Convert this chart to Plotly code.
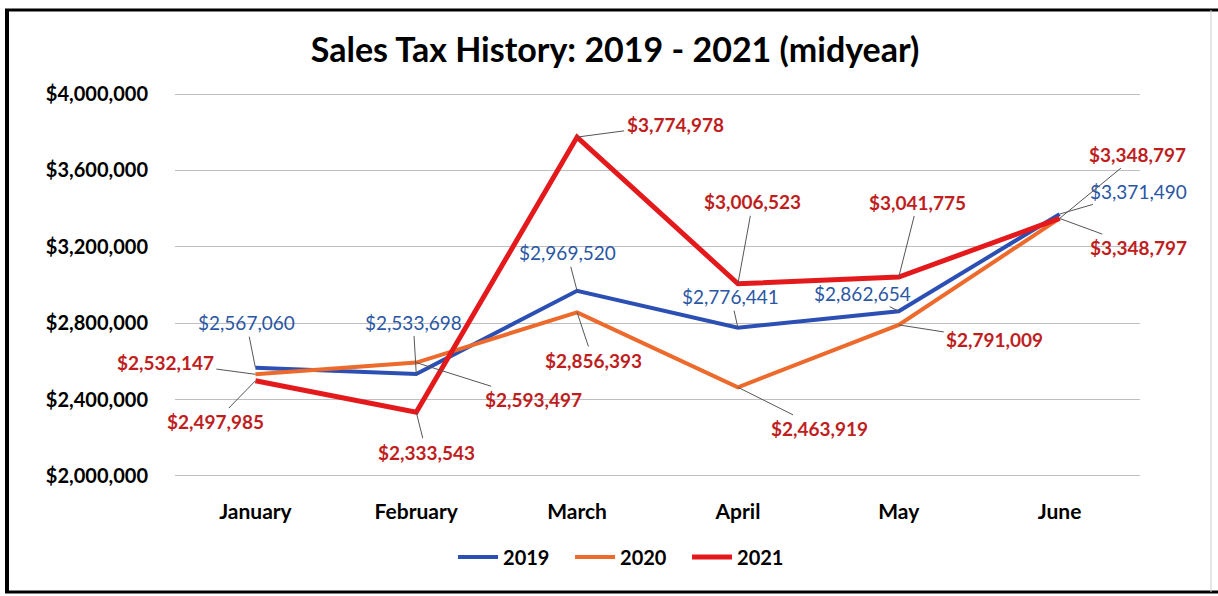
import plotly.graph_objects as go

months = ["January", "February", "March", "April", "May", "June"]
sales_2019 = [2567060, 2533698, 2969520, 2776441, 2862654, 3371490]
sales_2020 = [2532147, 2593497, 2856393, 2463919, 2791009, 3348797]
sales_2021 = [2497985, 2333543, 3774978, 3006523, 3041775, 3348797]
labels_2021 = [2497985, 2333543, 3774978, 3006523, 3041775, 3348797]
y_ticks = [2000000, 2400000, 2800000, 3200000, 3600000, 4000000]

W, H = 1218, 596
L, R, T, B = 175, 78, 93, 119

FONT = "Lato"
C19_LINE = "#2b4fb3"
C20_LINE = "#ec6a2c"
C21_LINE = "#e3191c"
C19_TXT = "#2a56a3"
C_RED_TXT = "#bf1e1e"

# label offsets (pixels, label centre relative to point)
off_2019 = [(-9, -45), (-3, -52), (-10, -38), (-7, -31), (-36, -18), (79, -23)]
off_2020 = [(-90, -12), (117, 37), (16, 48), (82, 41), (96, 15), (79, 29)]
off_2021 = [(-40, 41), (10, 40), (98, -13), (15, -82), (19, -75), (78, -64)]

fig = go.Figure()
for name, vals, col, w in [("2019", sales_2019, C19_LINE, 4),
                           ("2020", sales_2020, C20_LINE, 4),
                           ("2021", sales_2021, C21_LINE, 5)]:
    fig.add_trace(go.Scatter(x=months, y=vals, mode="lines", name=f"<b>{name}</b>",
                             line=dict(color=col, width=w)))

annotations = []
def add_labels(vals, lab_vals, offs, color, bold):
    for m, v, lv, (dx, dy) in zip(months, vals, lab_vals, offs):
        txt = f"${lv:,.0f}"
        if bold:
            txt = f"<b>{txt}</b>"
        annotations.append(dict(
            x=m, y=v, xref="x", yref="y", text=txt, showarrow=True,
            arrowhead=0, arrowwidth=1, arrowcolor="#555555", ax=dx, ay=dy,
            standoff=0, startstandoff=1,
            font=dict(family=FONT, size=19, color=color)))

add_labels(sales_2019, sales_2019, off_2019, C19_TXT, False)
add_labels(sales_2020, sales_2020, off_2020, C_RED_TXT, True)
add_labels(sales_2021, labels_2021, off_2021, C_RED_TXT, True)

def px_x(p):
    return (p - L) / (W - L - R)

def px_y(p):
    return 1 - (p - T) / (H - T - B)

shapes = [
    dict(type="line", xref="paper", yref="paper", x0=px_x(5), x1=px_x(1218),
         y0=px_y(10), y1=px_y(10), line=dict(color="black", width=3)),
    dict(type="line", xref="paper", yref="paper", x0=px_x(7), x1=px_x(7),
         y0=px_y(9), y1=px_y(593), line=dict(color="black", width=4)),
    dict(type="line", xref="paper", yref="paper", x0=px_x(5), x1=px_x(1218),
         y0=px_y(592), y1=px_y(592), line=dict(color="black", width=3)),
    dict(type="line", xref="paper", yref="paper", x0=px_x(1211), x1=px_x(1211),
         y0=px_y(10), y1=px_y(592), line=dict(color="#cccccc", width=1)),
]

fig.update_layout(
    width=W, height=H,
    margin=dict(l=L, r=R, t=T, b=B),
    paper_bgcolor="white", plot_bgcolor="white",
    title=dict(text="<b>Sales Tax History: 2019 - 2021 (midyear)</b>",
               x=0.505, xanchor="center", y=1 - 50 / H, yanchor="middle",
               font=dict(family=FONT, size=34, color="black")),
    xaxis=dict(type="category", showgrid=False, showline=False,
               ticks="", ticklabelstandoff=20, range=[-0.5, 5.5],
               tickfont=dict(family=FONT, size=21, color="black"),
               tickprefix="<b>", ticksuffix="</b>", zeroline=False),
    yaxis=dict(range=[1994000, 4006000], tickvals=y_ticks,
               ticktext=[f"<b>${v:,.0f}</b>" for v in y_ticks],
               showgrid=True, gridcolor="#bfbfbf", gridwidth=1,
               zeroline=False, showline=False, ticks="",
               ticklabelstandoff=26,
               tickfont=dict(family=FONT, size=20, color="black")),
    legend=dict(orientation="h", x=0.47, xanchor="center", y=1 - (557 - T) / (H - T - B),
                yanchor="middle", font=dict(family=FONT, size=20, color="black"),
                entrywidth=62, entrywidthmode="pixels",
                itemwidth=40, bgcolor="rgba(0,0,0,0)"),
    annotations=annotations,
    shapes=shapes,
)

fig.write_html("out.html", config={"displayModeBar": False},
               post_script="document.body.style.margin='0';")
